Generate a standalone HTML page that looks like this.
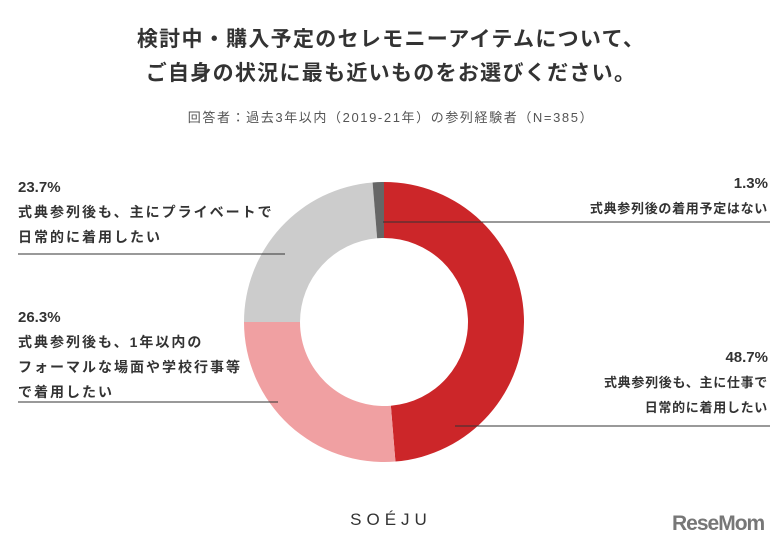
<!DOCTYPE html>
<html><head><meta charset="utf-8"><style>
body{margin:0;background:#fff;}
#w{position:relative;width:782px;height:550px;overflow:hidden;font-family:"Liberation Sans","Noto Sans CJK JP",sans-serif;color:#333;}
.t{position:absolute;white-space:nowrap;}
</style></head><body>
<div id="w">
<div class="t" style="left:0;width:782px;text-align:center;top:23px;font-size:21px;letter-spacing:1.3px;font-weight:bold;">検討中・購入予定のセレモニーアイテムについて、</div>
<div class="t" style="left:0;width:782px;text-align:center;top:57px;font-size:21px;letter-spacing:1.3px;font-weight:bold;">ご自身の状況に最も近いものをお選びください。</div>
<div class="t" style="left:0;width:782px;text-align:center;top:107px;font-size:13px;letter-spacing:1.6px;color:#555;">回答者：過去3年以内（2019-21年）の参列経験者（N=385）</div>
<svg id="s" width="782" height="550" style="position:absolute;left:0;top:0"></svg>
<div class="t" style="left:18px;top:175px;font-size:14px;letter-spacing:2px;font-weight:bold;line-height:25px;"><span style="font-size:15px;letter-spacing:0">23.7%</span><br>式典参列後も、主にプライベートで<br>日常的に着用したい</div>
<div class="t" style="left:18px;top:305px;font-size:14px;letter-spacing:2px;font-weight:bold;line-height:25px;"><span style="font-size:15px;letter-spacing:0">26.3%</span><br>式典参列後も、1年以内の<br>フォーマルな場面や学校行事等<br>で着用したい</div>
<div class="t" style="right:14px;top:171px;text-align:right;font-size:13px;letter-spacing:0.7px;font-weight:bold;line-height:25px;"><span style="font-size:15px;letter-spacing:0">1.3%</span><br>式典参列後の着用予定はない</div>
<div class="t" style="right:14px;top:345px;text-align:right;font-size:13px;letter-spacing:0.7px;font-weight:bold;line-height:25px;"><span style="font-size:15px;letter-spacing:0">48.7%</span><br>式典参列後も、主に仕事で<br>日常的に着用したい</div>
<div class="t" style="left:0;width:782px;text-align:center;top:510px;font-size:17px;letter-spacing:5px;color:#333;">SOÉJU</div>
<div class="t" style="left:672px;top:512px;font-size:21px;font-weight:bold;color:#777;letter-spacing:-1px;">ReseMom</div>
</div>
<script>
const categories=["仕事で日常的に","1年以内のフォーマル","プライベートで日常的に","着用予定はない"];
const values=[48.7,26.3,23.7,1.3];
const colors=["#cc2629","#f0a0a2","#cccccc","#666666"];
const cx=384,cy=322,R=140,r=84;
const svg=document.getElementById('s');
const NS="http://www.w3.org/2000/svg";
const total=values.reduce((a,b)=>a+b,0);
function pt(a,rad){return [cx+rad*Math.sin(a),cy-rad*Math.cos(a)];}
let acc=0;
values.forEach((v,i)=>{
 const a0=acc/total*2*Math.PI;acc+=v;const a1=acc/total*2*Math.PI;
 const lg=(a1-a0)>Math.PI?1:0;
 const p0=pt(a0,R),p1=pt(a1,R),q1=pt(a1,r),q0=pt(a0,r);
 const p=document.createElementNS(NS,'path');
 p.setAttribute('d',`M${p0[0]},${p0[1]}A${R},${R} 0 ${lg} 1 ${p1[0]},${p1[1]}L${q1[0]},${q1[1]}A${r},${r} 0 ${lg} 0 ${q0[0]},${q0[1]}Z`);
 p.setAttribute('fill',colors[i]);
 
 
 svg.appendChild(p);
});
const leaders=[[383,222,770,222],[18,254,285,254],[18,402,278,402],[455,426,770,426]];
leaders.forEach((l,i)=>{
 const ln=document.createElementNS(NS,'line');
 ln.setAttribute('x1',l[0]);ln.setAttribute('y1',l[1]);ln.setAttribute('x2',l[2]);ln.setAttribute('y2',l[3]);
 ln.setAttribute('stroke','#333');ln.setAttribute('stroke-width','1');
 
 
 svg.appendChild(ln);
});
</script>
</body></html>
